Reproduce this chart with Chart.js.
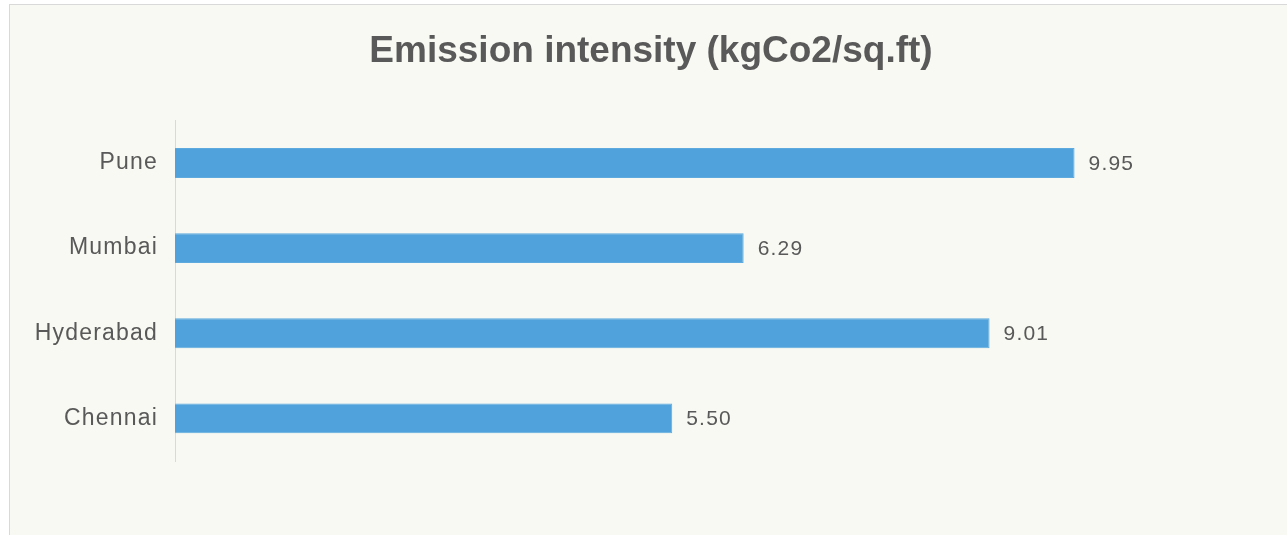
<!DOCTYPE html>
<html>
<head>
<meta charset="utf-8">
<script src="https://cdn.jsdelivr.net/npm/chart.js@4"></script>
<style>
  html, body { margin:0; padding:0; background:#fff; overflow:hidden; }
  #frame { position:absolute; left:9px; top:4px; width:1400px; height:700px;
           border:1px solid #d9d9d9; background:#f7f9f2; }
  #wrap { position:absolute; left:0; top:0; width:1287px; height:535px; }
</style>
</head>
<body>
<div id="frame"></div>
<div id="wrap"><canvas id="myCanvas"></canvas></div>
<script>
var chartTitle = 'Emission intensity (kgCo2/sq.ft)';
var cities = ['Pune', 'Mumbai', 'Hyderabad', 'Chennai'];
var intensity = [9.95, 6.29, 9.01, 5.50];
var xMax = 12.3;

var fontFamily = "'Liberation Sans', Arial, sans-serif";
var textColor = '#595959';

// value labels at the end of each bar
var valueLabels = {
  id: 'valueLabels',
  afterDatasetsDraw: function(chart){
    var ctx = chart.ctx;
    ctx.letterSpacing = '1.2px';
    var meta = chart.getDatasetMeta(0);
    ctx.save();
    ctx.font = '21px ' + fontFamily;
    ctx.fillStyle = textColor;
    ctx.textAlign = 'left';
    ctx.textBaseline = 'middle';
    meta.data.forEach(function(bar, i){
      ctx.fillText(intensity[i].toFixed(2), bar.x + 14, bar.y + 1);
    });
    ctx.restore();
  },
  afterDraw: function(chart){
    chart.ctx.letterSpacing = '0px';
  }
};

function draw(){
  var ctx = document.getElementById('myCanvas').getContext('2d');
  var chart = new Chart(ctx, {
    type: 'bar',
    data: {
      labels: cities,
      datasets: [{
        data: intensity,
        backgroundColor: '#4fa2db',
        borderColor: '#5eaadf',
        borderWidth: 1,
        categoryPercentage: 1,
        barPercentage: 0.35
      }]
    },
    options: {
      indexAxis: 'y',
      responsive: true,
      maintainAspectRatio: false,
      animation: false,
      layout: { padding: { left: 15, right: 0, top: 0, bottom: 74 } },
      plugins: {
        legend: { display: false },
        tooltip: { enabled: false },
        title: {
          display: true,
          text: chartTitle,
          color: textColor,
          font: { family: fontFamily, size: 37, weight: 'bold', lineHeight: 1.2 },
          padding: { top: 30, bottom: 46 }
        }
      },
      scales: {
        x: { display: false, min: 0, max: xMax },
        y: {
          afterFit: function(scale){ scale.width = 160; },
          grid: { display: false, drawTicks: false },
          border: { display: true, color: '#d9d9d9', width: 1 },
          ticks: {
            z: 1,
            padding: 17,
            color: textColor,
            font: { family: fontFamily, size: 23 }
          }
        }
      }
    },
    plugins: [valueLabels]
  });
}
draw();
</script>
</body>
</html>
